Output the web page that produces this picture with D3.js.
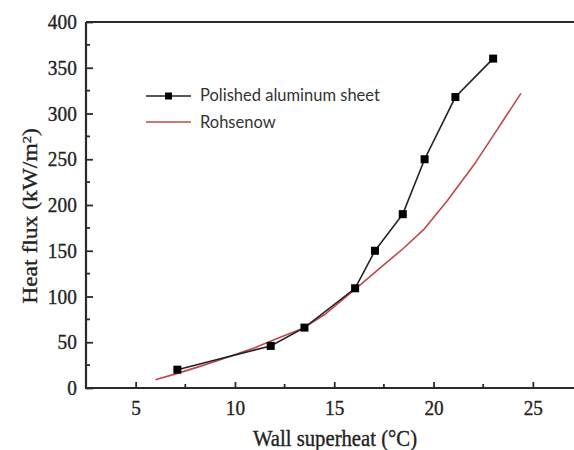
<!DOCTYPE html>
<html>
<head>
<meta charset="utf-8">
<script src="https://cdn.jsdelivr.net/npm/d3@7"></script>
<style>
  html, body { margin: 0; padding: 0; background: #fff; }
  svg { display: block; }
</style>
</head>
<body>
<svg id="chart" width="574" height="450"></svg>
<script>
// Measured boiling curve, polished aluminum sheet
const measuredSuperheat = [7.1, 11.8, 13.5, 16.05, 17.05, 18.45, 19.55, 21.1, 23.0];
const measuredFlux      = [20, 46, 66, 109, 150, 190, 250, 318, 360];

// Rohsenow correlation prediction
const rohsenowSuperheat = [6.0, 7.1, 8.0, 9.0, 9.8, 11.0, 12.0, 13.4, 14.5, 16.1, 17.3, 18.5, 19.5, 20.7, 22.1, 22.8, 24.4];
const rohsenowFlux      = [9, 16, 22, 29, 35, 44, 53, 65, 80, 109, 131, 153, 173, 205, 246, 269, 322];

// Axis ticks
const xTicks = [5, 10, 15, 20, 25];
const xMinorTicks = [7.5, 12.5, 17.5, 22.5];
const yTicks = [0, 50, 100, 150, 200, 250, 300, 350, 400];
const yMinorTicks = [25, 75, 125, 175, 225, 275, 325, 375];

const legendLabels = ["Polished aluminum sheet", "Rohsenow"];

const svg = d3.select("#chart");
const plotLeft = 86, plotTop = 22, plotBottom = 388, plotRight = 582.5;

const x = d3.scaleLinear().domain([2.5, 27.5]).range([plotLeft, plotRight]);
const y = d3.scaleLinear().domain([0, 400]).range([plotBottom, plotTop]);

const axisColor = "#2a2a2a";
const serif = "'Liberation Serif', 'Times New Roman', serif";

// Serif text slightly emboldened with a thin outline
function serifText(sel, size) {
  return sel.style("font-family", serif).attr("font-size", size)
    .attr("fill", "#222").attr("stroke", "#222").attr("stroke-width", 0.35);
}

// Frame (top and right edges)
svg.append("path")
  .attr("d", `M${plotLeft},${plotTop}H${plotRight}V${plotBottom}`)
  .attr("fill", "none").attr("stroke", axisColor).attr("stroke-width", 2);

// Bottom axis with inward ticks
const xAxis = svg.append("g").attr("transform", `translate(0,${plotBottom})`)
  .call(d3.axisBottom(x).tickValues(xTicks).tickSize(-6).tickPadding(12).tickFormat(d3.format("d")));
xAxis.select(".domain").remove();
xAxis.selectAll(".tick line").attr("stroke", axisColor).attr("stroke-width", 1.8);
serifText(xAxis.selectAll(".tick text"), 21)
  .attr("dy", "0.71em")
  .attr("transform", "scale(0.92,1)");
svg.append("g").selectAll("line").data(xMinorTicks).join("line")
  .attr("x1", d => x(d)).attr("x2", d => x(d))
  .attr("y1", plotBottom).attr("y2", plotBottom - 4)
  .attr("stroke", axisColor).attr("stroke-width", 1.8);

// Left axis with inward ticks
const yAxis = svg.append("g").attr("transform", `translate(${plotLeft},0)`)
  .call(d3.axisLeft(y).tickValues(yTicks).tickSize(-7).tickPadding(10).tickFormat(d3.format("d")));
yAxis.select(".domain").remove();
yAxis.selectAll(".tick line").attr("stroke", axisColor).attr("stroke-width", 1.8);
serifText(yAxis.selectAll(".tick text"), 21)
  .attr("transform", "scale(0.92,1)");
svg.append("g").selectAll("line").data(yMinorTicks).join("line")
  .attr("x1", plotLeft).attr("x2", plotLeft + 4)
  .attr("y1", d => y(d)).attr("y2", d => y(d))
  .attr("stroke", axisColor).attr("stroke-width", 1.8);

// Axis lines
svg.append("path")
  .attr("d", `M${plotLeft},${plotTop}V${plotBottom}H${plotRight}`)
  .attr("fill", "none").attr("stroke", axisColor).attr("stroke-width", 2.2);

// Axis titles
serifText(svg.append("text"), 22.5)
  .attr("transform", "translate(335,446) scale(0.92,1)")
  .attr("text-anchor", "middle")
  .text("Wall superheat (°C)");

const yTitle = serifText(svg.append("text"), 23.5)
  .attr("transform", "translate(37,216) rotate(-90) scale(1,0.85)")
  .attr("text-anchor", "middle");
yTitle.append("tspan").text("Heat flux (kW/m");
yTitle.append("tspan").attr("dy", "-0.45em").attr("font-size", "0.62em").text("2");
yTitle.append("tspan").attr("dy", "0.28em").text(")");

// Rohsenow curve
const rohsenow = rohsenowSuperheat.map((v, i) => [v, rohsenowFlux[i]]);
svg.append("path")
  .datum(rohsenow)
  .attr("fill", "none").attr("stroke", "#c04848").attr("stroke-width", 1.6)
  .attr("stroke-linejoin", "round")
  .attr("d", d3.line().x(d => x(d[0])).y(d => y(d[1])));

// Measured data
const measured = measuredSuperheat.map((v, i) => [v, measuredFlux[i]]);
svg.append("path")
  .datum(measured)
  .attr("fill", "none").attr("stroke", "#222").attr("stroke-width", 1.6)
  .attr("d", d3.line().x(d => x(d[0])).y(d => y(d[1])));
const sq = 8;
svg.append("g").selectAll("rect").data(measured).join("rect")
  .attr("x", d => x(d[0]) - sq / 2).attr("y", d => y(d[1]) - sq / 2)
  .attr("width", sq).attr("height", sq).attr("fill", "#000");

// Legend
const legend = svg.append("g").style("font-family", "Lato, 'Open Sans', sans-serif");
legend.append("line").attr("x1", 146).attr("x2", 191).attr("y1", 96).attr("y2", 96)
  .attr("stroke", "#222").attr("stroke-width", 1.6);
legend.append("rect").attr("x", 165).attr("y", 92.5).attr("width", 7).attr("height", 7).attr("fill", "#000");
legend.append("line").attr("x1", 146).attr("x2", 191).attr("y1", 122).attr("y2", 122)
  .attr("stroke", "#c04848").attr("stroke-width", 1.6);
legend.selectAll("text").data(legendLabels).join("text")
  .attr("x", 200).attr("y", (d, i) => 101 + i * 27)
  .attr("font-size", 16.5).attr("fill", "#333")
  .text(d => d);
</script>
</body>
</html>
